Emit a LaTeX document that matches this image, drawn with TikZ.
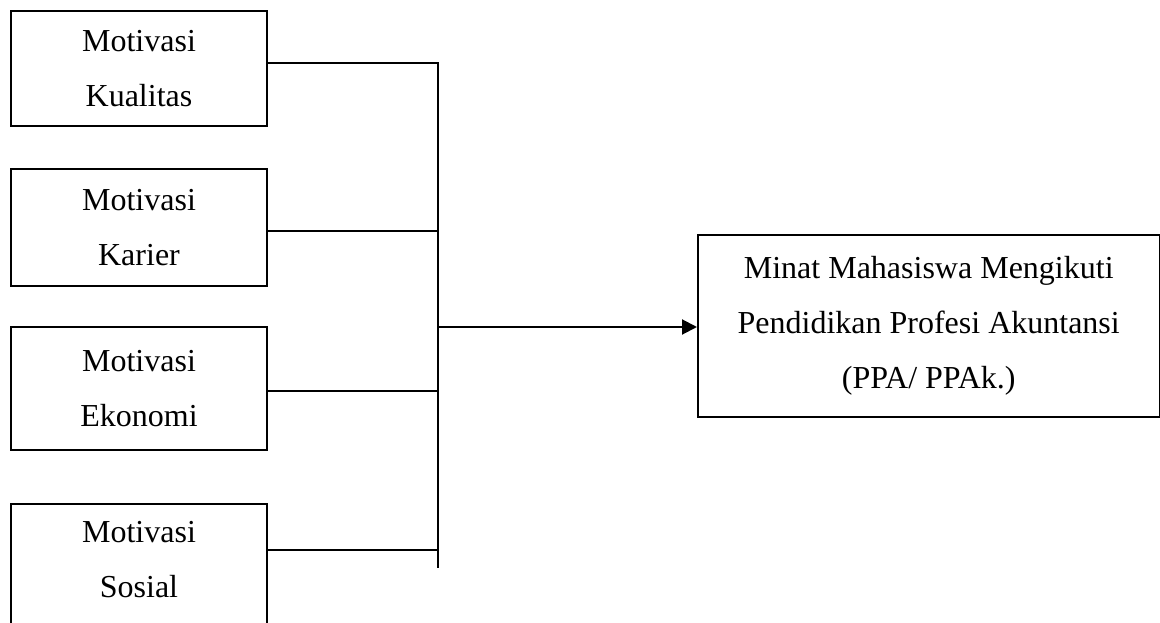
\documentclass[tikz,border=0pt]{standalone}
\usepackage{fontspec}
\setmainfont{Liberation Serif}
\usetikzlibrary{arrows.meta}
\begin{document}
\begin{tikzpicture}[x=1pt,y=-1pt,
  txt/.style={align=center, inner sep=0pt, font=\fontsize{32}{55}\selectfont},
  box/.style={txt, draw, line width=2pt, minimum width=256pt},
  link/.style={line width=2pt},
  tip/.style={-{Triangle[length=15pt,width=15pt]}}]
\useasboundingbox (0,0) rectangle (1160,623);
\clip (0,0) rectangle (1160,623);

% independent variables
\node[box, minimum height=115pt] (s1) at (139,68.5) {Motivasi\\Kualitas};
\node[box, minimum height=117pt] (s2) at (139,227.5) {Motivasi\\Karier};
\node[box, minimum height=123pt] (s3) at (139,388.5) {Motivasi\\Ekonomi};
\node[box, minimum height=140pt, anchor=north] (s4) at (139,503) {};
\node[txt] (s4t) at (139,560) {Motivasi\\Sosial};

% dependent variable
\node[box, minimum width=461.5pt, minimum height=182pt] (y) at (928.75,326)
  {Minat Mahasiswa Mengikuti\\Pendidikan Profesi Akuntansi\\(PPA/ PPAk.)};

% collecting bus
\coordinate (btop) at (438,63);
\coordinate (bbot) at (438,568);
\coordinate (j2) at (438,231);
\coordinate (j3) at (438,391);
\coordinate (j4) at (438,550);
\coordinate (jy) at (438,327);

\draw[link] (btop -| s1.east) -- (btop) -- (bbot);
\draw[link] (j2 -| s2.east) -- (j2);
\draw[link] (j3 -| s3.east) -- (j3);
\draw[link] (j4 -| s4.east) -- (j4);
\draw[link, tip] (jy) -- (jy -| y.west);
\end{tikzpicture}
\end{document}
